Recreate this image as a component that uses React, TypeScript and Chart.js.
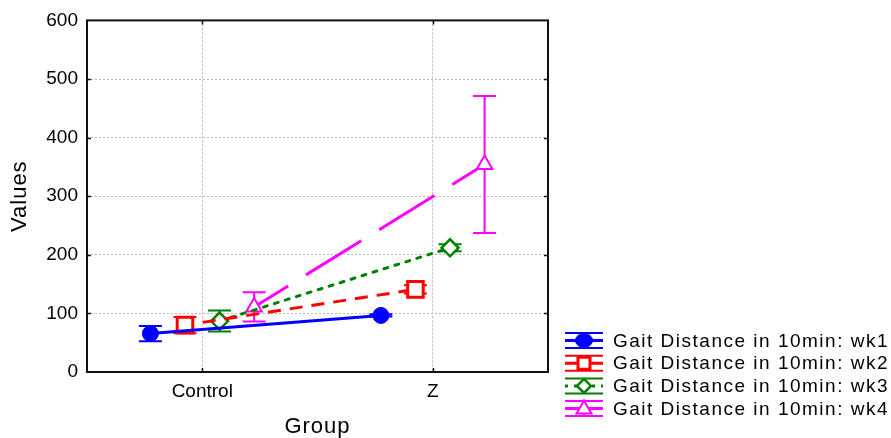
import React, { useEffect, useRef } from "react";
import { Chart, registerables } from "chart.js";

Chart.register(...registerables);

const categories = ["Control", "Z"];
const seriesLabels = [
  "Gait Distance in 10min: wk1",
  "Gait Distance in 10min: wk2",
  "Gait Distance in 10min: wk3",
  "Gait Distance in 10min: wk4",
];
const wk1 = [65.5, 96.5];
const wk1Err = [13, 2];
const wk2 = [80, 141];
const wk2Err = [14, 7];
const wk3 = [87, 212];
const wk3Err = [18, 6];
const wk4 = [111, 354];
const wk4Err = [25, 117];
const offsets = [-0.225, -0.075, 0.075, 0.225];
const yTickValues = [0, 100, 200, 300, 400, 500, 600];

const seriesValues = [wk1, wk2, wk3, wk4];
const seriesErrors = [wk1Err, wk2Err, wk3Err, wk4Err];
const colors = ["#0000ff", "#ff0000", "#008000", "#ff00ff"];
const dashes = [[], [13, 9], [4, 7.5], [65, 21]];
const dashOffsets = [0, 4, 0, 25];
const pointStyles = ["circle", "rect", "rectRot", "triangle"];
const pointRadii = [8, 11, 8.5, 9];
const pointBorder = [1, 3, 2.5, 2];
const FONT = "'Liberation Sans', Arial, sans-serif";

function drawMarker(ctx: CanvasRenderingContext2D, i: number, x: number, y: number) {
  ctx.save();
  ctx.setLineDash([]);
  ctx.strokeStyle = colors[i];
  ctx.lineWidth = pointBorder[i];
  ctx.fillStyle = i === 0 ? colors[0] : "#ffffff";
  ctx.beginPath();
  if (i === 0) {
    ctx.ellipse(x, y, 8.5, 7, 0, 0, Math.PI * 2);
  } else if (i === 1) {
    ctx.rect(x - 6, y - 6, 12, 12);
  } else if (i === 2) {
    ctx.moveTo(x - 7, y);
    ctx.lineTo(x, y - 7);
    ctx.lineTo(x + 7, y);
    ctx.lineTo(x, y + 7);
    ctx.closePath();
  } else {
    ctx.moveTo(x, y - 8);
    ctx.lineTo(x + 7.5, y + 5);
    ctx.lineTo(x - 7.5, y + 5);
    ctx.closePath();
  }
  ctx.fill();
  ctx.stroke();
  ctx.restore();
}

const errorBarPlugin = {
  id: "errorBars",
  beforeDatasetsDraw(chart: any) {
    const ctx: CanvasRenderingContext2D = chart.ctx;
    const xs = chart.scales.x;
    const ys = chart.scales.y;
    ctx.save();
    seriesValues.forEach((vals, i) => {
      ctx.strokeStyle = colors[i];
      ctx.lineWidth = 2;
      ctx.setLineDash([]);
      vals.forEach((v, j) => {
        const e = seriesErrors[i][j];
        const px = xs.getPixelForValue(j + offsets[i]);
        const top = ys.getPixelForValue(v + e);
        const bot = ys.getPixelForValue(v - e);
        ctx.beginPath();
        ctx.moveTo(px, top);
        ctx.lineTo(px, bot);
        ctx.moveTo(px - 11.5, top);
        ctx.lineTo(px + 11.5, top);
        ctx.moveTo(px - 11.5, bot);
        ctx.lineTo(px + 11.5, bot);
        ctx.stroke();
      });
    });
    ctx.restore();
  },
};

const framePlugin = {
  id: "frameAndLegend",
  afterDraw(chart: any) {
    const ctx: CanvasRenderingContext2D = chart.ctx;
    const a = chart.chartArea;
    const xs = chart.scales.x;
    const ys = chart.scales.y;
    ctx.save();
    ctx.setLineDash([]);
    ctx.strokeStyle = "#111111";
    ctx.lineWidth = 2;
    ctx.strokeRect(a.left, a.top, a.right - a.left, a.bottom - a.top);
    ctx.lineWidth = 1.5;
    ctx.beginPath();
    yTickValues.slice(1, -1).forEach((v) => {
      const py = Math.round(ys.getPixelForValue(v)) + 0.5;
      ctx.moveTo(a.left, py);
      ctx.lineTo(a.left + 4, py);
      ctx.moveTo(a.right, py);
      ctx.lineTo(a.right - 4, py);
    });
    categories.forEach((_, j) => {
      const px = Math.round(xs.getPixelForValue(j)) + 0.5;
      ctx.moveTo(px, a.bottom);
      ctx.lineTo(px, a.bottom - 4);
      ctx.moveTo(px, a.top);
      ctx.lineTo(px, a.top + 4);
    });
    ctx.stroke();

    // axis titles
    ctx.fillStyle = "#000000";
    (ctx as any).letterSpacing = "1px";
    ctx.font = `22px ${FONT}`;
    ctx.textAlign = "center";
    ctx.textBaseline = "middle";
    ctx.fillText("Group", (a.left + a.right) / 2, 427);
    ctx.save();
    ctx.translate(20, (a.top + a.bottom) / 2);
    ctx.rotate(-Math.PI / 2);
    ctx.fillText("Values", 0, 0);
    ctx.restore();

    // legend
    (ctx as any).letterSpacing = "1.5px";
    ctx.font = `19px ${FONT}`;
    ctx.textAlign = "left";
    seriesLabels.forEach((label, i) => {
      const cy = 340.5 + i * 22.7;
      const x0 = 565;
      const x1 = 603;
      const cx = 584;
      ctx.strokeStyle = colors[i];
      ctx.lineWidth = 2;
      ctx.setLineDash([]);
      ctx.beginPath();
      ctx.moveTo(x0, cy - 7.5);
      ctx.lineTo(x1, cy - 7.5);
      ctx.moveTo(x0, cy + 7.5);
      ctx.lineTo(x1, cy + 7.5);
      ctx.stroke();
      ctx.lineWidth = 3;
      ctx.setLineDash(i === 2 ? [3, 6] : []);
      ctx.beginPath();
      ctx.moveTo(x0, cy);
      ctx.lineTo(x1, cy);
      ctx.stroke();
      ctx.setLineDash([]);
      ctx.lineWidth = 2;
      ctx.beginPath();
      ctx.moveTo(cx, cy - 7.5);
      ctx.lineTo(cx, cy + 7.5);
      ctx.stroke();
      drawMarker(ctx, i, cx, cy);
      ctx.fillStyle = "#000000";
      ctx.fillText(label, 613, cy + 1);
    });
    ctx.restore();
  },
};

export default function App() {
  const ref = useRef<HTMLCanvasElement>(null);
  useEffect(() => {
    if (!ref.current) return;
    Chart.defaults.font.family = FONT;
    const datasets = seriesValues.map((vals, i) => ({
      label: seriesLabels[i],
      data: vals.map((v, j) => ({ x: j + offsets[i], y: v })),
      borderColor: colors[i],
      backgroundColor: i === 0 ? colors[0] : "#ffffff",
      borderWidth: 3,
      borderDash: dashes[i],
      borderDashOffset: dashOffsets[i],
      borderCapStyle: i === 2 ? ("round" as const) : ("butt" as const),
      pointStyle: pointStyles[i],
      pointRadius: pointRadii[i],
      pointBorderWidth: pointBorder[i],
      pointBorderColor: colors[i],
      pointBackgroundColor: i === 0 ? colors[0] : "#ffffff",
      showLine: true,
      tension: 0,
    }));
    const chart = new Chart(ref.current, {
      type: "line",
      data: { datasets },
      plugins: [errorBarPlugin, framePlugin],
      options: {
        animation: false,
        responsive: false,
        devicePixelRatio: 1,
        layout: { padding: { left: 0, top: 18, right: 343, bottom: 0 } },
        plugins: { legend: { display: false }, tooltip: { enabled: false } },
        scales: {
          x: {
            type: "linear",
            min: -0.5,
            max: 1.5,
            afterBuildTicks: (scale: any) => {
              scale.ticks = categories.map((_, j) => ({ value: j }));
            },
            afterFit: (scale: any) => {
              scale.height = 66;
            },
            ticks: {
              color: "#000000",
              font: { size: 19 },
              padding: 8,
              autoSkip: false,
              maxRotation: 0,
              callback: (v: any) => categories[v as number] ?? "",
            },
            grid: { color: "#b8b8b8", lineWidth: 1, drawTicks: false },
            border: { display: false, dash: [2, 2] },
          },
          y: {
            type: "linear",
            min: 0,
            max: 600,
            afterBuildTicks: (scale: any) => {
              scale.ticks = yTickValues.map((v) => ({ value: v }));
            },
            afterFit: (scale: any) => {
              scale.width = 87;
            },
            ticks: { color: "#000000", font: { size: 19 }, padding: 9 },
            grid: { color: "#b8b8b8", lineWidth: 1, drawTicks: false },
            border: { display: false, dash: [2, 2] },
          },
        },
      },
    });
    return () => chart.destroy();
  }, []);
  return (
    <div style={{ position: "fixed", left: 0, top: 0, width: 891, height: 438, background: "#ffffff" }}>
      <canvas ref={ref} width={891} height={438} />
    </div>
  );
}
